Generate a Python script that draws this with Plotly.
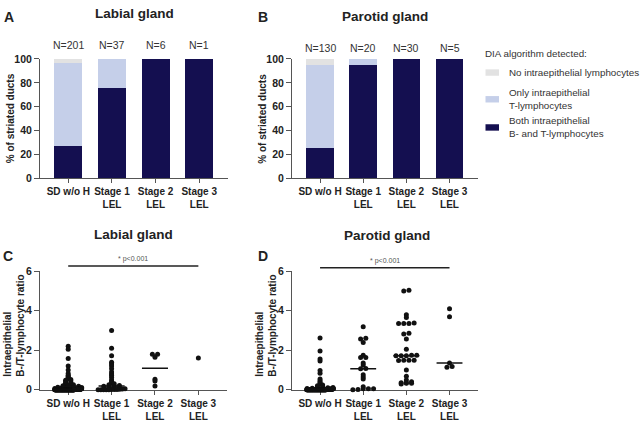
import numpy as np
import plotly.graph_objects as go

W, H = 641, 423
FONT = "Liberation Sans, Arial, sans-serif"
TXT = "#222222"
AX = "#555555"
DARK = "#140f50"
LIGHT = "#c5cfe9"
GRAY = "#e2e2e2"

# ---------------- data ----------------
categories = ["SD w/o H", "Stage 1<br>LEL", "Stage 2<br>LEL", "Stage 3<br>LEL"]
labial_n = [201, 37, 6, 1]
parotid_n = [130, 20, 30, 5]

labial_both = [27.3, 75.9, 100.0, 100.0]
labial_only = [69.6, 24.1, 0.0, 0.0]
labial_none = [3.1, 0.0, 0.0, 0.0]
parotid_both = [25.4, 94.6, 100.0, 100.0]
parotid_only = [69.9, 5.4, 0.0, 0.0]
parotid_none = [4.7, 0.0, 0.0, 0.0]

labial_sd_ratio = [
    2.2, 2.05, 1.58, 1.21, 1.0, 0.82, 0.74, 0.68, 0.62, 0.57,
    0.52, 0.48, 0.44, 0.4, 0.36, 0.33, 0.3, 0.27, 0.25, 0.22,
    0.2, 0.18, 0.16, 0.15, 0.14, 0.13, 0.12, 0.11, 0.1, 0.1,
    0.09, 0.09, 0.08, 0.08, 0.07, 0.07,
    0.05, 0.05, 0.05, 0.05, 0.05, 0.05, 0.04, 0.04, 0.04, 0.04,
    0.04, 0.04, 0.03, 0.03, 0.03, 0.03, 0.03, 0.03, 0.03, 0.03,
    0.02, 0.02, 0.02, 0.02, 0.02, 0.02, 0.02, 0.02, 0.02, 0.02,
    0.01, 0.01, 0.01, 0.01, 0.01, 0.01, 0.01, 0.01, 0.01, 0.01,
    0.01, 0.01, 0.01, 0.01, 0.01,
    0.0, 0.0, 0.0, 0.0, 0.0, 0.0, 0.0, 0.0, 0.0, 0.0, 0.0, 0.0, 0.0, 0.0, 0.0, 0.0, 0.0, 0.0, 0.0, 0.0,
    0.0, 0.0, 0.0, 0.0, 0.0, 0.0, 0.0, 0.0, 0.0, 0.0, 0.0, 0.0, 0.0, 0.0, 0.0, 0.0, 0.0, 0.0, 0.0, 0.0,
    0.0, 0.0, 0.0, 0.0, 0.0, 0.0, 0.0, 0.0, 0.0, 0.0, 0.0, 0.0, 0.0, 0.0, 0.0, 0.0, 0.0, 0.0, 0.0, 0.0,
    0.0, 0.0, 0.0, 0.0, 0.0, 0.0, 0.0, 0.0, 0.0, 0.0, 0.0, 0.0, 0.0, 0.0, 0.0, 0.0, 0.0, 0.0, 0.0, 0.0,
    0.0, 0.0, 0.0, 0.0, 0.0, 0.0, 0.0, 0.0, 0.0, 0.0, 0.0, 0.0, 0.0, 0.0, 0.0, 0.0, 0.0, 0.0, 0.0, 0.0,
    0.0, 0.0, 0.0, 0.0, 0.0, 0.0, 0.0, 0.0, 0.0, 0.0, 0.0, 0.0, 0.0, 0.0, 0.0, 0.0, 0.0, 0.0, 0.0, 0.0,
]
labial_st1_ratio = [
    3.0, 2.1, 1.72, 1.4, 1.3, 1.2, 1.06, 0.9, 0.8, 0.72,
    0.62, 0.5, 0.42, 0.36, 0.3, 0.26, 0.22, 0.2, 0.19, 0.18,
    0.15, 0.12, 0.1, 0.1, 0.08, 0.06, 0.05, 0.04, 0.03, 0.02,
    0.02, 0.01, 0.0, 0.0, 0.0, 0.0, 0.0,
]
labial_st2_ratio = [1.8, 1.8, 1.65, 0.53, 0.44, 0.19]
labial_st3_ratio = [1.61]

parotid_sd_ratio = [
    2.62, 1.96, 1.56, 1.46, 0.98, 0.84, 0.55, 0.46, 0.38, 0.3,
    0.24, 0.2, 0.16, 0.14, 0.12, 0.1, 0.1, 0.08, 0.08, 0.07,
    0.05, 0.05, 0.05, 0.05, 0.04, 0.04, 0.04, 0.04,
    0.03, 0.03, 0.03, 0.03, 0.03, 0.03, 0.02, 0.02, 0.02, 0.02, 0.02, 0.02,
    0.01, 0.01, 0.01, 0.01, 0.01, 0.01, 0.01, 0.01, 0.01, 0.01,
    0.0, 0.0, 0.0, 0.0, 0.0, 0.0, 0.0, 0.0, 0.0, 0.0, 0.0, 0.0, 0.0, 0.0, 0.0, 0.0, 0.0, 0.0, 0.0, 0.0,
    0.0, 0.0, 0.0, 0.0, 0.0, 0.0, 0.0, 0.0, 0.0, 0.0, 0.0, 0.0, 0.0, 0.0, 0.0, 0.0, 0.0, 0.0, 0.0, 0.0,
    0.0, 0.0, 0.0, 0.0, 0.0, 0.0, 0.0, 0.0, 0.0, 0.0, 0.0, 0.0, 0.0, 0.0, 0.0, 0.0, 0.0, 0.0, 0.0, 0.0,
    0.0, 0.0, 0.0, 0.0, 0.0, 0.0, 0.0, 0.0, 0.0, 0.0, 0.0, 0.0, 0.0, 0.0, 0.0, 0.0, 0.0, 0.0, 0.0, 0.0,
]
parotid_st1_ratio = [
    3.19, 2.61, 2.57, 2.39, 1.75, 1.63, 1.63, 1.36, 1.25, 1.08,
    1.06, 0.76, 0.65, 0.55, 0.16, 0.05, 0.05, 0.05, 0.02, 0.0,
]
parotid_st2_ratio = [
    5.04, 5.0, 3.8, 3.66, 3.38, 3.36, 3.36, 3.36, 2.86, 2.83,
    2.57, 2.05, 1.75, 1.75, 1.72, 1.72, 1.72, 1.5, 1.5, 1.5,
    1.48, 1.0, 0.68, 0.49, 0.41, 0.36, 0.36, 0.33, 0.33, 0.29,
]
parotid_st3_ratio = [4.1, 3.7, 1.36, 1.18, 1.14]

labial_ratios = [labial_sd_ratio, labial_st1_ratio, labial_st2_ratio, labial_st3_ratio]
parotid_ratios = [parotid_sd_ratio, parotid_st1_ratio, parotid_st2_ratio, parotid_st3_ratio]

# ---------------- layout geometry (pixels) ----------------
XR = [-0.65, 3.66]
panels = {
    "A": dict(xa="x", ya="y", xdom=(40, 228), ybot=177.5, ytop=54.5, yr=[0, 100]),
    "B": dict(xa="x2", ya="y2", xdom=(292, 478), ybot=177.5, ytop=54.5, yr=[0, 100]),
    "C": dict(xa="x3", ya="y3", xdom=(40, 227), ybot=395, ytop=273, yr=[0, 6]),
    "D": dict(xa="x4", ya="y4", xdom=(292, 478), ybot=395, ytop=273, yr=[0, 6]),
}


def px(xp):
    return xp / W


def py(yp):
    return 1 - yp / H


def cat_to_paper(panel, c):
    p = panels[panel]
    d0, d1 = p["xdom"]
    return (d0 + (c - XR[0]) / (XR[1] - XR[0]) * (d1 - d0)) / W


def swarm_offsets(vals, tol=0.05, step=0.12, half=0.31):
    vals = np.asarray(vals, dtype=float)
    order = np.argsort(vals, kind="stable")
    offs = np.zeros(len(vals))
    rows, cur, start = [], [], None
    for idx in order:
        v = vals[idx]
        if cur and v - start <= tol:
            cur.append(idx)
        else:
            if cur:
                rows.append(cur)
            cur, start = [idx], v
    if cur:
        rows.append(cur)
    for row in rows:
        k = len(row)
        if k == 1:
            continue
        s = min(step, 2 * half / (k - 1))
        for j, idx in enumerate(row):
            offs[idx] = (j - (k - 1) / 2) * s
    return offs


fig = go.Figure()
xcat = list(range(len(categories)))

# stacked bars
for panel, (both, only, none) in (("A", (labial_both, labial_only, labial_none)),
                                  ("B", (parotid_both, parotid_only, parotid_none))):
    p = panels[panel]
    for vals, col in ((both, DARK), (only, LIGHT), (none, GRAY)):
        fig.add_trace(go.Bar(x=xcat, y=vals, marker=dict(color=col, line=dict(width=0)),
                             width=0.64, xaxis=p["xa"], yaxis=p["ya"], showlegend=False,
                             hoverinfo="skip"))

# scatter dot plots
for panel, groups in (("C", labial_ratios), ("D", parotid_ratios)):
    p = panels[panel]
    for i, vals in enumerate(groups):
        offs = swarm_offsets(vals)
        fig.add_trace(go.Scatter(x=i + offs, y=vals, mode="markers",
                                 marker=dict(size=5, color="#111111", line=dict(width=0)),
                                 cliponaxis=False, xaxis=p["xa"], yaxis=p["ya"],
                                 showlegend=False, hoverinfo="skip"))
        if len(vals) > 1:
            med = float(np.median(vals))
            fig.add_trace(go.Scatter(x=[i - 0.3, i + 0.3], y=[med, med], mode="lines",
                                     line=dict(color="#111111", width=1.5),
                                     cliponaxis=False, xaxis=p["xa"], yaxis=p["ya"],
                                     showlegend=False, hoverinfo="skip"))

layout = dict(
    width=W, height=H, autosize=False,
    margin=dict(l=0, r=0, t=0, b=0, pad=0),
    paper_bgcolor="white", plot_bgcolor="white",
    barmode="stack", bargap=0,
    font=dict(family=FONT, size=10, color=TXT),
    showlegend=False,
)

for key, p in panels.items():
    xname = "xaxis" + p["xa"][1:]
    yname = "yaxis" + p["ya"][1:]
    layout[xname] = dict(
        domain=[px(p["xdom"][0]), px(p["xdom"][1])], range=XR, anchor=p["ya"],
        tickmode="array", tickvals=xcat, ticktext=categories,
        showline=True, linecolor=AX, linewidth=1, ticks="outside", ticklen=4,
        tickcolor=AX, tickwidth=1, showgrid=False, zeroline=False, fixedrange=True,
        tickfont=dict(family=FONT, size=10, color=TXT, weight="bold"),
        layer="below traces",
    )
    ydtick = 20 if p["yr"][1] == 100 else 2
    layout[yname] = dict(
        domain=[py(p["ybot"]), py(p["ytop"])], range=p["yr"], anchor=p["xa"],
        tickmode="linear", tick0=0, dtick=ydtick,
        showline=True, linecolor=AX, linewidth=1, ticks="outside", ticklen=5,
        tickcolor=AX, tickwidth=1, showgrid=False, zeroline=False, fixedrange=True,
        tickfont=dict(family=FONT, size=10.5, color=TXT, weight="bold"),
        layer="below traces",
    )

fig.update_layout(**layout)

ann = []


def text(x, y, s, size=10, bold=False, xanchor="center", yanchor="middle", color=TXT,
         angle=0):
    ann.append(dict(x=x, y=y, xref="paper", yref="paper", text=s, showarrow=False,
                    xanchor=xanchor, yanchor=yanchor, textangle=angle, align="left",
                    font=dict(family=FONT, size=size, color=color,
                              weight="bold" if bold else "normal")))


# panel titles and letters
text(px(134.5), py(8), "Labial gland", size=13.5, bold=True)
text(px(385), py(10.5), "Parotid gland", size=13.5, bold=True)
text(px(133), py(235), "Labial gland", size=13.5, bold=True)
text(px(386.5), py(236.5), "Parotid gland", size=13.5, bold=True)
text(px(9), py(11), "A", size=14, bold=True)
text(px(263), py(11), "B", size=14, bold=True)
text(px(8), py(257.5), "C", size=14, bold=True)
text(px(263), py(257.5), "D", size=14, bold=True)

# y-axis titles
text(px(10.5), py(116), "% of striated ducts", size=10, bold=True, angle=-90)
text(px(263), py(116), "% of striated ducts", size=10, bold=True, angle=-90)
text(px(14), py(329), "Intraepithelial<br>B-/T-lymphocyte ratio", size=10, bold=True, angle=-90)
text(px(266), py(329), "Intraepithelial<br>B-/T-lymphocyte ratio", size=10, bold=True, angle=-90)

# N labels
for i, n in enumerate(labial_n):
    text(cat_to_paper("A", i), py(40.5), f"N={n}", size=10.5, color="#333333")
for i, n in enumerate(parotid_n):
    text(cat_to_paper("B", i), py(43), f"N={n}", size=10.5, color="#333333")

# significance brackets
shapes = []
for panel, ly, ty in (("C", 267.7, 260.5), ("D", 269.3, 262.5)):
    x0 = cat_to_paper(panel, 0)
    x1 = cat_to_paper(panel, len(categories) - 1)
    shapes.append(dict(type="line", xref="paper", yref="paper", x0=x0, x1=x1,
                       y0=py(ly), y1=py(ly), line=dict(color="#222222", width=1.5)))
    text((x0 + x1) / 2, py(ty), "* p<0.001", size=7, color="#555555")

# legend
text(px(483), py(48.5), "DIA algorithm detected:", size=9.8, xanchor="left", color="#333333")
legend_items = [
    (GRAY, 68.5, "No intraepithelial lymphocytes"),
    (LIGHT, 96, "Only intraepithelial<br>T-lymphocytes"),
    (DARK, 125, "Both intraepithelial<br>B- and T-lymphocytes"),
]
for col, yc, lab in legend_items:
    shapes.append(dict(type="rect", xref="paper", yref="paper",
                       x0=px(485.5), x1=px(499), y0=py(yc + 3.3), y1=py(yc - 3.3),
                       fillcolor=col, line=dict(width=0)))
    text(px(506.5), py(yc), lab, size=9.8, xanchor="left", color="#333333")

fig.update_layout(annotations=ann, shapes=shapes)
fig.write_html(
    "out.html",
    config={"displayModeBar": False, "staticPlot": True},
    post_script="document.body.style.margin='0';document.body.style.overflow='hidden';",
)
